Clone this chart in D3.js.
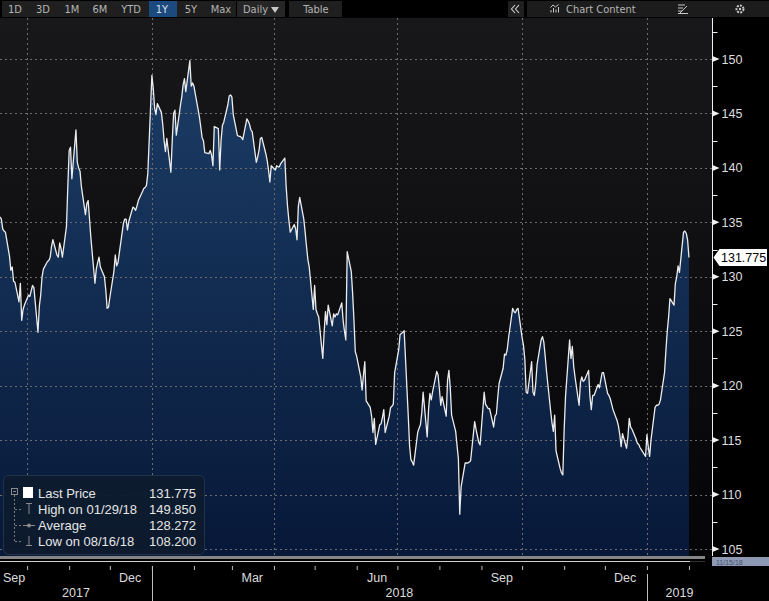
<!DOCTYPE html>
<html><head><meta charset="utf-8">
<script src="https://cdn.jsdelivr.net/npm/d3@7"></script>
<style>
html,body{margin:0;padding:0;background:#000;}
svg{display:block;font-family:"Liberation Sans",Arial,sans-serif;}
</style></head><body>
<svg id="chart" width="769" height="601"></svg>
<script>
// ---------- data ----------
const startDate = "2017-09-11";           // first trading day shown
const endDate = "2019-02-18";             // right edge of the time axis
const prices = [
135.5,135.3,134.4,134.2,134.1, 131.9,130.6,130.9,129.6,129.5, 127.7,129.4,126.0,127.0,127.4,
128.3,128.2,128.7,129.2,129.0, 124.9,127.3,128.3,130.0,130.7, 131.4,131.5,131.8,132.8,133.4,
132.0,131.8,133.1,132.6,131.8, 134.6,138.3,141.6,141.9,139.0, 143.5,140.5,140.0,139.7,138.3,
135.7,136.7,137.0,135.3,133.6, 129.4,130.7,131.3,131.8,130.9, 130.0,128.8,127.1,127.2,128.1,
130.5,132.0,131.0,131.3,132.2, 134.9,135.3,135.3,134.3,135.1, 136.4,136.3,136.1,136.5,137.0,
137.8,138.1,138.2,138.4,139.5, 148.5,147.3,145.5,144.9,145.9, 145.1,144.0,142.5,141.5,142.7,
139.6,142.5,145.0,145.3,143.0, 145.7,146.5,147.6,148.2,147.0, 149.85,147.5,147.8,147.5,146.8,
144.7,143.8,142.8,142.5,141.4, 141.3,141.6,141.2,140.2,143.8, 143.6,139.8,142.5,143.9,144.2,
145.8,146.6,146.7,146.5,144.9, 143.0,142.9,142.9,142.8,142.6, 144.5,144.3,144.0,143.5,143.3,
140.5,141.0,141.6,142.7,142.8, 141.3,140.7,139.8,138.7,140.2, 139.8,140.2,140.1,140.1,140.4,
140.9,138.3,136.5,135.2,134.1, 134.8,134.4,133.4,136.5,137.3, 135.3,134.1,132.8,131.6,130.9,
127.0,129.2,127.0,126.6,126.3, 122.5,124.9,126.8,125.6,127.4, 125.5,126.6,126.3,126.6,126.5,
127.6,126.0,125.0,124.2,132.3, 130.5,128.5,126.0,123.1,122.7, 120.8,119.6,121.0,122.2,118.6,
118.0,117.2,115.7,117.0,114.6, 116.4,116.5,117.1,117.8,115.7, 117.2,118.0,118.1,118.3,121.2,
123.3,124.7,124.8,124.9,125.05, 117.3,114.5,113.2,113.0,112.7, 115.7,116.1,116.4,117.5,119.4,
115.3,117.8,119.3,118.7,119.45, 121.3,121.0,119.7,118.2,119.0, 117.2,120.5,121.4,119.8,117.3,
115.8,114.5,113.3,108.2,110.7, 112.9,112.9,112.9,113.0,113.1, 116.7,116.0,115.4,114.8,114.55,
119.4,118.3,118.1,117.9,117.9, 116.2,117.2,117.4,118.9,120.2, 121.6,122.9,122.8,123.3,124.4,
127.1,126.8,126.7,127.0,127.1, 124.4,123.7,122.4,119.4,119.3, 122.2,119.4,119.1,120.2,121.9,
124.2,124.5,124.0,122.7,121.3, 117.7,116.6,115.8,117.3,114.0, 112.4,112.0,111.8,116.0,119.0,
124.2,122.5,123.6,121.8,120.8, 118.2,120.3,120.8,120.4,120.5, 121.4,119.0,117.8,119.1,119.1,
120.1,119.8,120.5,121.2,121.2, 119.3,119.1,118.8,118.3,117.8, 116.8,116.3,115.5,114.4,115.6,
114.25,115.3,117.0,116.2,116.0, 115.1,114.7,114.6,114.3,114.1, 113.5,115.5,114.4,113.5,115.0,
118.0,118.2,118.2,118.3,118.7, 121.2,123.2,125.0,126.3,128.0, 127.4,129.4,130.0,131.0,130.4,
134.1,134.2,134.0,133.4,131.775
];
const yTicks = [105,110,115,120,125,130,135,140,145,150];
const yMinorTicks = [102.5,107.5,112.5,117.5,122.5,127.5,132.5,137.5,142.5,147.5,152.5];
const monthLabelDates = ["2017-09","2017-12","2018-03","2018-06","2018-09","2018-12"];
const yearLabels = ["2017","2018","2019"];
const lastPriceLabel = "131.775";
const legendLabels = ["Last Price","High on 01/29/18","Average","Low on 08/16/18"];
const legendValues = ["131.775","149.850","128.272","108.200"];
const toolbarLeft = ["1D","3D","1M","6M","YTD","1Y","5Y","Max"];
const toolbarActive = "1Y";

// ---------- setup ----------
const svg = d3.select("#chart");
const parseDay = d3.timeParse("%Y-%m-%d");
const parseMonth = d3.timeParse("%Y-%m");
const dates = [];
let cur = parseDay(startDate);
while (dates.length < prices.length) {
  const wd = cur.getDay();
  if (wd !== 0 && wd !== 6) dates.push(cur);
  cur = d3.timeDay.offset(cur, 1);
}
const series = dates.map((d, i) => ({date: d, value: prices[i]}));

const plot = {left: 0, right: 712, top: 18, bottom: 556};
const x = d3.scaleTime().domain([parseDay(startDate), parseDay(endDate)]).range([plot.left, plot.right]);
const y = d3.scaleLinear().domain([105, 150]).range([549, 59]);

const defs = svg.append("defs");
const bgGrad = defs.append("linearGradient").attr("id","bg").attr("x1",0).attr("y1",0).attr("x2",0).attr("y2",1);
bgGrad.append("stop").attr("offset","0%").attr("stop-color","#18181a");
bgGrad.append("stop").attr("offset","100%").attr("stop-color","#050507");
const areaGrad = defs.append("linearGradient").attr("id","areaGrad").attr("gradientUnits","userSpaceOnUse")
  .attr("x1",0).attr("y1",y(150)).attr("x2",0).attr("y2",plot.bottom);
areaGrad.append("stop").attr("offset","0%").attr("stop-color","#1c3d66");
areaGrad.append("stop").attr("offset","100%").attr("stop-color","#071838");
defs.append("clipPath").attr("id","plotClip").append("rect")
  .attr("x",plot.left).attr("y",plot.top).attr("width",plot.right-plot.left).attr("height",plot.bottom-plot.top);

// plot background
svg.append("rect").attr("x",plot.left).attr("y",plot.top).attr("width",plot.right-plot.left)
  .attr("height",plot.bottom-plot.top).attr("fill","url(#bg)");

const g = svg.append("g").attr("clip-path","url(#plotClip)");

// area
const area = d3.area().x(d => x(d.date)).y0(plot.bottom).y1(d => y(d.value));
g.append("path").datum(series).attr("d", area).attr("fill","url(#areaGrad)");

// grid
g.selectAll(".hgrid").data(yTicks).join("line")
  .attr("x1",plot.left).attr("x2",plot.right).attr("y1",d=>Math.round(y(d))+0.5).attr("y2",d=>Math.round(y(d))+0.5)
  .attr("stroke","#6b6b70").attr("stroke-width",1).attr("stroke-dasharray","2,3");
const quarterStarts = d3.timeMonth.every(3).range(x.domain()[0], x.domain()[1]);
g.selectAll(".vgrid").data(quarterStarts).join("line")
  .attr("x1",d=>Math.round(x(d))+0.5).attr("x2",d=>Math.round(x(d))+0.5).attr("y1",plot.top).attr("y2",plot.bottom)
  .attr("stroke","#6b6b70").attr("stroke-width",1).attr("stroke-dasharray","2,3");

// line
const line = d3.line().x(d => x(d.date)).y(d => y(d.value));
g.append("path").datum(series).attr("d", line).attr("fill","none")
  .attr("stroke","#ececec").attr("stroke-width",1.3).attr("stroke-linejoin","round");

// right axis
const axisX = plot.right + 0.5;
svg.append("line").attr("x1",axisX).attr("x2",axisX).attr("y1",plot.top).attr("y2",plot.bottom)
  .attr("stroke","#f0f0f0").attr("stroke-width",1);
const yAxis = d3.axisRight(y).tickValues(yTicks).tickSize(0).tickPadding(9).tickFormat(d3.format("d"));
const yAxisG = svg.append("g").attr("transform",`translate(${axisX},0)`).call(yAxis);
yAxisG.select(".domain").remove();
yAxisG.selectAll("text").attr("fill","#dedede").attr("font-size",12.5).attr("font-family","'Liberation Sans',Arial,sans-serif");
svg.selectAll(".ytri").data(yTicks).join("path")
  .attr("d", d => { const yy = y(d); return `M${axisX},${yy-3}L${axisX+7},${yy}L${axisX},${yy+3}Z`; })
  .attr("fill","#f0f0f0");
svg.selectAll(".yminor").data(yMinorTicks.filter(v => y(v) > plot.top && y(v) < plot.bottom)).join("line")
  .attr("x1",axisX).attr("x2",axisX+5).attr("y1",d=>Math.round(y(d))+0.5).attr("y2",d=>Math.round(y(d))+0.5)
  .attr("stroke","#f0f0f0").attr("stroke-width",1);

// last price tag
const lastY = y(prices[prices.length-1]);
svg.append("path")
  .attr("d",`M${axisX+1},${lastY}L${axisX+7},${lastY-8.5}L767,${lastY-8.5}L767,${lastY+8.5}L${axisX+7},${lastY+8.5}Z`)
  .attr("fill","#ffffff");
svg.append("text").attr("x",721).attr("y",lastY+4.5).attr("fill","#000").attr("font-size",12.5).text(lastPriceLabel);

// navigator strip
svg.append("rect").attr("x",0).attr("y",556).attr("width",705).attr("height",3).attr("fill","#858585");
svg.append("line").attr("x1",0).attr("x2",690).attr("y1",561.5).attr("y2",561.5).attr("stroke","#cfcfcf").attr("stroke-width",1);
svg.append("line").attr("x1",690).attr("x2",705).attr("y1",561.5).attr("y2",561.5).attr("stroke","#333").attr("stroke-width",1);
svg.append("rect").attr("x",712).attr("y",557).attr("width",57).attr("height",9).attr("fill","#8e9ab3");
svg.append("text").attr("x",716).attr("y",564.5).attr("font-size",7).attr("fill","#44506c").text("11/15/18");

// bottom axis
const monthTicks = d3.timeMonth.range(d3.timeMonth.ceil(x.domain()[0]), x.domain()[1]);
const xAxis = d3.axisBottom(x).tickValues(monthTicks).tickSize(4).tickFormat("");
const xAxisG = svg.append("g").attr("transform","translate(0,566)").call(xAxis);
xAxisG.select(".domain").remove();
xAxisG.selectAll("line").attr("stroke","#bdbdbd");
const monthFmt = d3.timeFormat("%b");
svg.selectAll(".mlab").data(monthLabelDates.map(parseMonth)).join("text")
  .attr("x", d => {
    const mid = x(new Date(d.getFullYear(), d.getMonth(), 16));
    return Math.max(mid, 14);
  })
  .attr("y",582).attr("text-anchor","middle").attr("fill","#dcdcdc").attr("font-size",12.5)
  .text(d => monthFmt(d));
const yearBounds = [x.domain()[0], new Date(2018,0,1), new Date(2019,0,1), x.domain()[1]];
svg.selectAll(".ylab").data(yearLabels).join("text")
  .attr("x",(d,i)=> (x(yearBounds[i]) + x(yearBounds[i+1]))/2).attr("y",597)
  .attr("text-anchor","middle").attr("fill","#dcdcdc").attr("font-size",12.5).text(d=>d);
svg.selectAll(".ysep").data(yearBounds.slice(1,3)).join("line")
  .attr("x1",d=>Math.round(x(d))+0.5).attr("x2",d=>Math.round(x(d))+0.5).attr("y1",(d,i)=> i===0 ? 566 : 574).attr("y2",601)
  .attr("stroke","#bdbdbd").attr("stroke-width",1);

// legend
const lg = svg.append("g");
lg.append("rect").attr("x",3.5).attr("y",475.5).attr("width",201).attr("height",79).attr("rx",5)
  .attr("fill","#0e1b2d").attr("fill-opacity",0.93).attr("stroke","#22324a");
const rowY = [493, 509, 525, 541];
// tree lines
lg.append("rect").attr("x",11.5).attr("y",488.5).attr("width",6).attr("height",6).attr("fill","none").attr("stroke","#8a8a8a");
lg.append("line").attr("x1",13).attr("x2",16).attr("y1",491.5).attr("y2",491.5).attr("stroke","#8a8a8a");
lg.append("line").attr("x1",14.5).attr("x2",14.5).attr("y1",495).attr("y2",541).attr("stroke","#7a7a7a").attr("stroke-dasharray","2,2");
[509,525,541].forEach(yy => lg.append("line").attr("x1",15).attr("x2",22).attr("y1",yy+0.5).attr("y2",yy+0.5)
  .attr("stroke","#7a7a7a").attr("stroke-dasharray","2,2"));
// icons
lg.append("rect").attr("x",23).attr("y",487).attr("width",10).attr("height",11).attr("fill","#ffffff");
lg.append("path").attr("d","M26,503.5H32M29,503.5V514").attr("stroke","#8a8a8a").attr("fill","none");
lg.append("path").attr("d","M23,525.5H35").attr("stroke","#8a8a8a");
lg.append("circle").attr("cx",29).attr("cy",525.5).attr("r",2).attr("fill","#8a8a8a");
lg.append("path").attr("d","M29,536V545.5M26,545.5H32").attr("stroke","#8a8a8a").attr("fill","none");
lg.selectAll(".ltxt").data(legendLabels).join("text")
  .attr("x",38).attr("y",(d,i)=>rowY[i]+5).attr("fill","#e6e6e6").attr("font-size",13).text(d=>d);
lg.selectAll(".lval").data(legendValues).join("text")
  .attr("x",196).attr("y",(d,i)=>rowY[i]+5).attr("text-anchor","end").attr("fill","#e6e6e6").attr("font-size",13).text(d=>d);

// toolbar
const tb = svg.append("g").attr("font-family","'Liberation Sans Narrow','DejaVu Sans Condensed',Arial,sans-serif").attr("font-size",11);
const btnCenters = [15,43,72,100,131,162,191,221];
tb.append("rect").attr("x",2).attr("y",1).attr("width",234).attr("height",16).attr("fill","#1f1f1f");
tb.append("rect").attr("x",149).attr("y",1).attr("width",28).attr("height",16).attr("fill","#1d4a7e");
tb.selectAll(".btn").data(toolbarLeft).join("text")
  .attr("x",(d,i)=>btnCenters[i]).attr("y",13).attr("text-anchor","middle")
  .attr("fill",d=> d===toolbarActive ? "#d6e0ee" : "#b4b4b4").text(d=>d);
tb.append("rect").attr("x",237).attr("y",1).attr("width",48).attr("height",16).attr("fill","#262626");
tb.append("text").attr("x",243).attr("y",13).attr("fill","#b4b4b4").text("Daily");
tb.append("path").attr("d","M271,7H279L275,13Z").attr("fill","#c8c8c8");
tb.append("rect").attr("x",289).attr("y",1).attr("width",53).attr("height",16).attr("fill","#1f1f1f");
tb.append("text").attr("x",316).attr("y",13).attr("text-anchor","middle").attr("fill","#b4b4b4").text("Table");
tb.append("rect").attr("x",508).attr("y",1).attr("width",16).attr("height",16).attr("fill","#1f1f1f");
tb.append("path").attr("d","M515,5L511.5,9L515,13M519,5L515.5,9L519,13").attr("stroke","#d0d0d0").attr("fill","none").attr("stroke-width",1.1);
tb.append("rect").attr("x",527).attr("y",1).attr("width",242).attr("height",16).attr("fill","#1c1c1c");
tb.append("path").attr("d","M551,12.5V10M553.5,12.5V8M556,12.5V9.5M558.5,12.5V7M550.5,7.5L553,5L555.5,7L558.5,4.5")
  .attr("stroke","#c8c8c8").attr("fill","none").attr("stroke-width",1);
tb.append("text").attr("x",566).attr("y",13).attr("fill","#b4b4b4").text("Chart Content");
tb.append("path").attr("d","M678,5H685M678,8H683M678,11H682M680,13L687,6M678,13.5H688").attr("stroke","#c8c8c8").attr("fill","none");
tb.append("circle").attr("cx",740).attr("cy",9).attr("r",3.5).attr("fill","none").attr("stroke","#c8c8c8").attr("stroke-width",2).attr("stroke-dasharray","2,1.2");
tb.append("circle").attr("cx",740).attr("cy",9).attr("r",1.2).attr("fill","#c8c8c8");
</script>
</body></html>
